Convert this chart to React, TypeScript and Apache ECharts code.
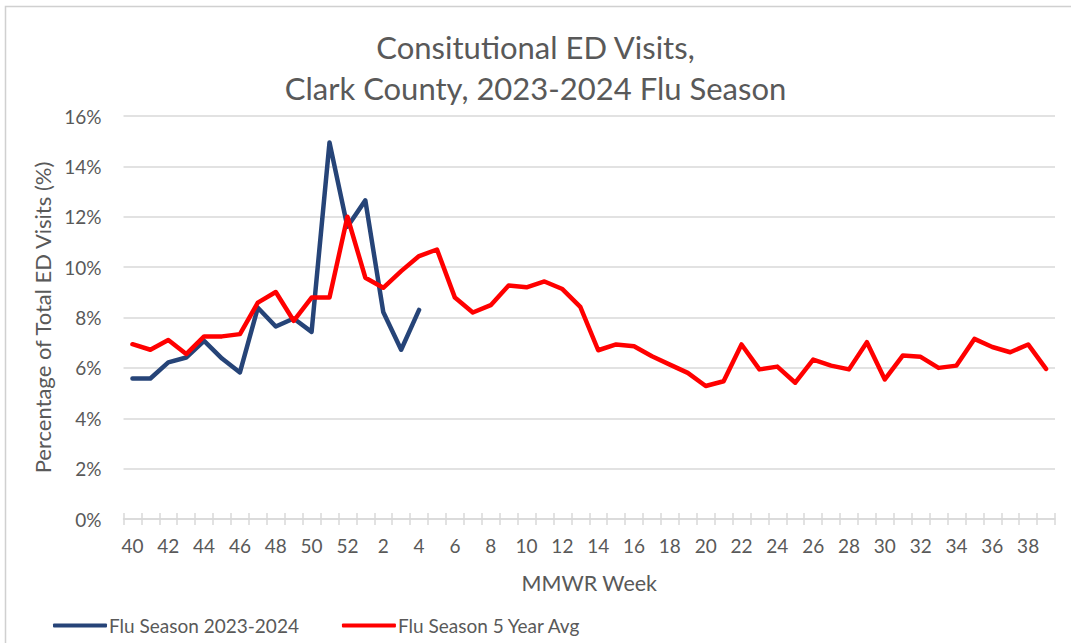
import React, { useEffect, useRef } from "react";
import * as echarts from "echarts";

const weeks = [
  "40", "41", "42", "43", "44", "45", "46", "47", "48", "49", "50", "51", "52",
  "1", "2", "3", "4", "5", "6", "7", "8", "9", "10", "11", "12", "13", "14", "15",
  "16", "17", "18", "19", "20", "21", "22", "23", "24", "25", "26", "27", "28",
  "29", "30", "31", "32", "33", "34", "35", "36", "37", "38", "39",
];

const season2023 = [
  5.58, 5.58, 6.22, 6.41, 7.07, 6.37, 5.82, 8.39, 7.64, 7.96, 7.43, 14.95, 11.6,
  12.65, 8.22, 6.72, 8.3,
];

const fiveYearAvg = [
  6.94, 6.72, 7.11, 6.55, 7.25, 7.25, 7.34, 8.59, 9.01, 7.87, 8.79, 8.79, 12.0,
  9.58, 9.18, 9.84, 10.44, 10.7, 8.79, 8.2, 8.49, 9.27, 9.2, 9.43, 9.13, 8.42,
  6.7, 6.93, 6.86, 6.46, 6.13, 5.8, 5.28, 5.47, 6.93, 5.94, 6.05, 5.41, 6.33,
  6.09, 5.94, 7.02, 5.54, 6.49, 6.44, 6.0, 6.09, 7.15, 6.83, 6.62, 6.93, 5.96,
];

const seriesNames = ["Flu Season 2023-2024", "Flu Season 5 Year Avg"];
const titleLines = ["Consitutional ED Visits,", "Clark County, 2023-2024 Flu Season"];

const FONT = "Lato";
const GRAY = "#595959";
const LINE = "#d9d9d9";

export default function App() {
  const ref = useRef<HTMLDivElement>(null);
  useEffect(() => {
    if (!ref.current) return;
    const chart = echarts.init(ref.current, undefined, { renderer: "svg" });
    chart.setOption({
      animation: false,
      backgroundColor: "#ffffff",
      textStyle: { fontFamily: FONT },
      title: {
        text: titleLines.join("\n"),
        left: "center",
        top: 21,
        textStyle: {
          fontFamily: FONT,
          fontSize: 31,
          fontWeight: "normal",
          color: GRAY,
          lineHeight: 41,
        },
      },
      graphic: [
        {
          type: "rect",
          shape: { x: 5.5, y: 6.5, width: 1200, height: 800 },
          style: { fill: "none", stroke: "#d0d0d0", lineWidth: 1.5 },
          silent: true,
        },
      ],
      legend: {
        left: 48,
        top: 611,
        icon: "roundRect",
        itemWidth: 54,
        itemHeight: 4,
        itemGap: 43,
        textStyle: { fontFamily: FONT, fontSize: 19, color: GRAY, padding: [0, 0, 0, -3] },
        data: seriesNames,
      },
      grid: { left: 123.5, right: 16, top: 116, bottom: 124, containLabel: false },
      xAxis: [
        {
          type: "category",
          data: weeks,
          boundaryGap: true,
          name: "MMWR Week",
          nameLocation: "middle",
          nameGap: 53,
          nameTextStyle: { fontFamily: FONT, fontSize: 21.5, color: GRAY },
          axisLine: { lineStyle: { color: LINE, width: 1.5 } },
          axisTick: { show: true, interval: 0, length: 6, lineStyle: { color: LINE, width: 1.5 } },
          axisLabel: { interval: 1, margin: 17, fontFamily: FONT, fontSize: 19, color: GRAY },
        },
        {
          type: "category",
          data: weeks,
          boundaryGap: true,
          position: "bottom",
          offset: 0,
          axisLine: { show: false },
          axisTick: { show: true, inside: true, interval: 0, length: 6, lineStyle: { color: LINE, width: 1.5 } },
          axisLabel: { show: false },
        },
      ],
      yAxis: {
        type: "value",
        min: 0,
        max: 16,
        interval: 2,
        name: "Percentage of Total ED Visits (%)",
        nameLocation: "middle",
        nameGap: 70,
        nameTextStyle: { fontFamily: FONT, fontSize: 22, color: GRAY },
        axisLine: { show: false },
        axisTick: { show: false },
        axisLabel: { formatter: "{value}%", margin: 22, fontFamily: FONT, fontSize: 19, color: GRAY },
        splitLine: { lineStyle: { color: LINE, width: 1.5 } },
      },
      series: [
        {
          name: seriesNames[0],
          type: "line",
          data: season2023,
          symbol: "none",
          color: "#264478",
          lineStyle: { width: 4.5, color: "#264478", join: "round", cap: "round" },
          z: 3,
        },
        {
          name: seriesNames[1],
          type: "line",
          data: fiveYearAvg,
          symbol: "none",
          color: "#ff0000",
          lineStyle: { width: 4.5, color: "#ff0000", join: "round", cap: "round" },
          z: 4,
        },
      ],
    });
    return () => chart.dispose();
  }, []);
  return (
    <div
      ref={ref}
      style={{ position: "fixed", left: 0, top: 0, width: 1071, height: 643 }}
    />
  );
}
